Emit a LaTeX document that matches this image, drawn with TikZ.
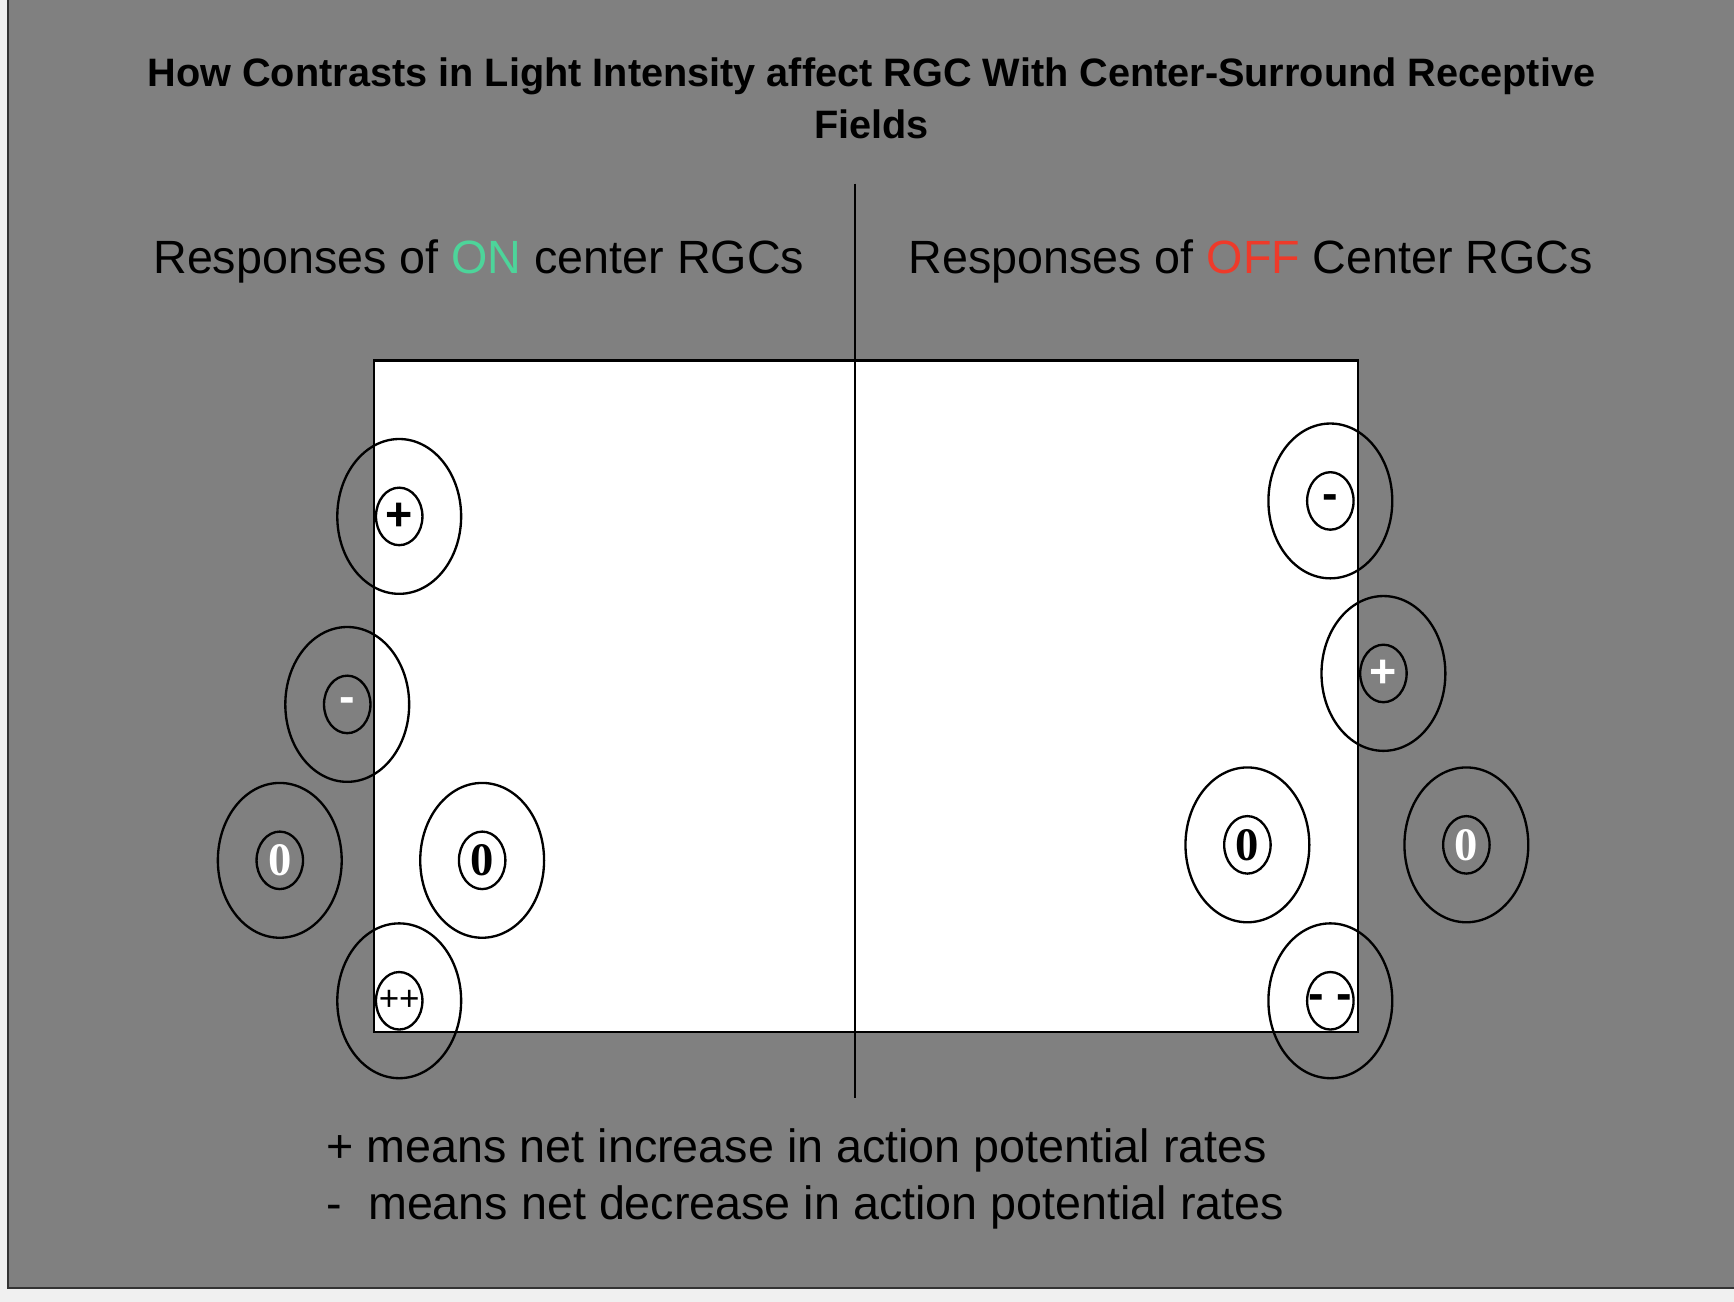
\documentclass[tikz,border=0pt]{standalone}
\usepackage{fontspec}
\setmainfont{Liberation Sans}
\newfontfamily\serifb{Liberation Serif}
\definecolor{bg}{HTML}{808080}
\definecolor{ongreen}{HTML}{4DD49A}
\definecolor{offred}{HTML}{EE3A2A}
\begin{document}
\begin{tikzpicture}[x=0.01cm,y=-0.01cm,
  outer/.style={draw=black,line width=0.6pt,ellipse},
  lbl/.style={font=\fontsize{12pt}{12pt}\selectfont\bfseries},
  zero/.style={font=\serifb\fontsize{12pt}{12pt}\selectfont\bfseries}]
\useasboundingbox (0,0) rectangle (1568,1177);
\fill[black!6] (0,0) rectangle (1568,1177);
\fill[bg] (7,0) rectangle (1568,1165);
\draw[black!80,line width=0.6pt] (7,0) -- (7,1165) -- (1568,1165);
\node[font=\fontsize{10.2pt}{13.5pt}\selectfont\bfseries,align=center] (title) at (788,89)
  {How Contrasts in Light Intensity affect RGC With Center-Surround Receptive\\Fields};
\node[font=\fontsize{12pt}{12pt}\selectfont] (lh) at (433,236) {Responses of \textcolor{ongreen}{ON} center RGCs};
\node[font=\fontsize{12pt}{12pt}\selectfont] (rh) at (1131,236) {Responses of \textcolor{offred}{OFF} Center RGCs};
\draw[fill=white,line width=0.6pt] (338,326) rectangle (1228,933);
\coordinate (vt) at (773,166); \coordinate (vb) at (773,993);
\draw[line width=0.6pt] (vt) -- (vb);
% rings
\foreach \n/\x/\y in {a/361/467,b/314/637,c/253/778,d/436/778,e/361/905,f/1203/453,g/1251/609,h/1128/764,i/1326/764,j/1203/905}{
  \draw[line width=0.6pt] (\x,\y) ellipse (56 and 70);
  \draw[line width=0.6pt] (\x,\y) ellipse (21 and 26);
}
\node[lbl] (la) at (361,467) {+};
\node[lbl,white] (lb) at (314,638) {-};
\node[zero,white] (lc) at (253,778) {0};
\node[zero] (ld) at (436,778) {0};
\node[font=\fontsize{9pt}{9pt}\selectfont] (le) at (361,905) {++};
\node[lbl] (lf) at (1203,454) {-};
\node[lbl,white] (lg) at (1251,609) {+};
\node[zero] (lh2) at (1128,764) {0};
\node[zero,white] (li) at (1326,764) {0};
\node[lbl] (lj) at (1203,906) {- -};
\node[font=\fontsize{12pt}{14.8pt}\selectfont,align=left,anchor=west] (legend) at (283,1066)
  {+ means net increase in action potential rates\\-\ \ means net decrease in action potential rates};
\end{tikzpicture}
\end{document}
